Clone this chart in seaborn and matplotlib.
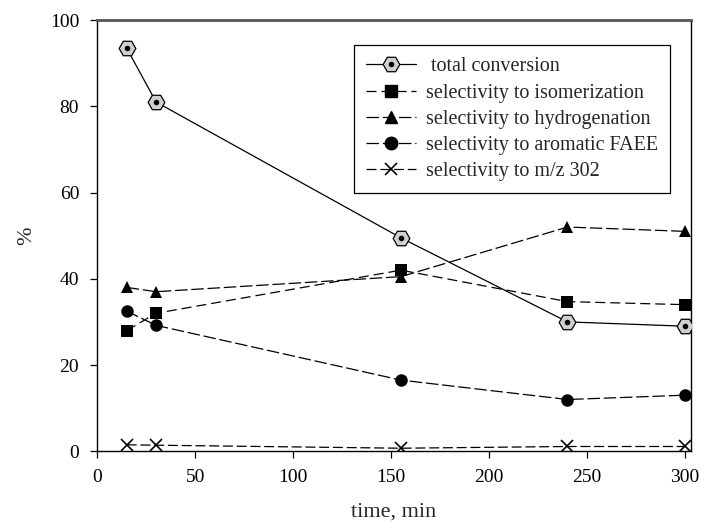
import matplotlib
matplotlib.use("Agg")
import matplotlib.pyplot as plt
import seaborn as sns
import pandas as pd
from matplotlib.lines import Line2D

time_min = [15, 30, 155, 240, 300]
total_conversion = [93.5, 81.0, 49.5, 30.0, 29.0]
sel_isomerization = [28.0, 32.0, 42.0, 34.7, 34.0]
sel_hydrogenation = [38.0, 37.0, 40.5, 52.0, 51.0]
sel_aromatic = [32.5, 29.2, 16.5, 12.0, 13.0]
sel_mz302 = [1.5, 1.4, 0.7, 1.1, 1.1]

labels = [" total conversion", "selectivity to isomerization",
          "selectivity to hydrogenation", "selectivity to aromatic FAEE",
          "selectivity to m/z 302"]

sns.set_style("ticks")
plt.rcParams['font.family'] = ['Liberation Serif', 'DejaVu Serif']

fig = plt.figure(figsize=(7.05, 5.29), dpi=100)
ax = fig.add_axes([0.138, 0.147, 0.842, 0.815])

df = pd.DataFrame({"t": time_min, "conv": total_conversion, "iso": sel_isomerization,
                   "hyd": sel_hydrogenation, "aro": sel_aromatic, "mz": sel_mz302})

lw = 0.9
sns.lineplot(data=df, x="t", y="conv", ax=ax, color="black", lw=lw, marker="H",
             markersize=12, markerfacecolor="#d0d0d0", markeredgecolor="black",
             markeredgewidth=0.9, zorder=3)
sns.lineplot(data=df, x="t", y="conv", ax=ax, lw=0, marker="o", markersize=4,
             color="black", markeredgewidth=0, zorder=4)
sns.lineplot(data=df, x="t", y="iso", ax=ax, color="black", lw=lw, marker="s",
             markersize=8, markeredgewidth=0, dashes=(8, 4), zorder=3)
sns.lineplot(data=df, x="t", y="hyd", ax=ax, color="black", lw=lw, marker="^",
             markersize=9, markeredgewidth=0, dashes=(10, 3), zorder=3)
sns.lineplot(data=df, x="t", y="aro", ax=ax, color="black", lw=lw, marker="o",
             markersize=9, markeredgewidth=0, dashes=(10, 3), zorder=3)
sns.lineplot(data=df, x="t", y="mz", ax=ax, color="black", lw=lw, marker="x",
             markersize=9, markeredgewidth=1.2, markeredgecolor="black",
             dashes=(8, 3), zorder=3)

ax.set_xlim(0, 303)
ax.set_ylim(0, 100)
ax.set_xticks([0, 50, 100, 150, 200, 250, 300])
ax.set_yticks([0, 20, 40, 60, 80, 100])
ax.tick_params(direction="out", length=5, width=0.9, labelsize=14, colors="black", pad=8)
for s in ax.spines.values():
    s.set_color("black")
    s.set_linewidth(1.0)
ax.spines["top"].set_color("#555555")
ax.spines["top"].set_linewidth(2)
ax.set_xlabel("time, min", fontsize=16, labelpad=12)
ax.set_ylabel("%", fontsize=16, labelpad=10)

conv_h = (Line2D([], [], color="black", lw=lw, marker="H", markersize=12,
                 markerfacecolor="#d0d0d0", markeredgecolor="black", markeredgewidth=0.9),
          Line2D([], [], lw=0, marker="o", markersize=4, color="black", markeredgewidth=0))
handles = [conv_h,
           Line2D([], [], color="black", lw=lw, marker="s", markersize=8, dashes=(8, 4)),
           Line2D([], [], color="black", lw=lw, marker="^", markersize=9, dashes=(10, 3)),
           Line2D([], [], color="black", lw=lw, marker="o", markersize=9, dashes=(10, 3)),
           Line2D([], [], color="black", lw=lw, marker="x", markersize=9,
                  markeredgewidth=1.2, markeredgecolor="black", dashes=(8, 3))]
leg = ax.legend(handles, labels, loc="upper left", bbox_to_anchor=(0.415, 0.965),
                fontsize=14.5, frameon=True, fancybox=False, edgecolor="black",
                framealpha=1, handlelength=2.5, borderpad=0.6, labelspacing=0.35,
                handletextpad=0.5)
leg.get_frame().set_linewidth(0.9)

fig.savefig("out.png", dpi=100)
